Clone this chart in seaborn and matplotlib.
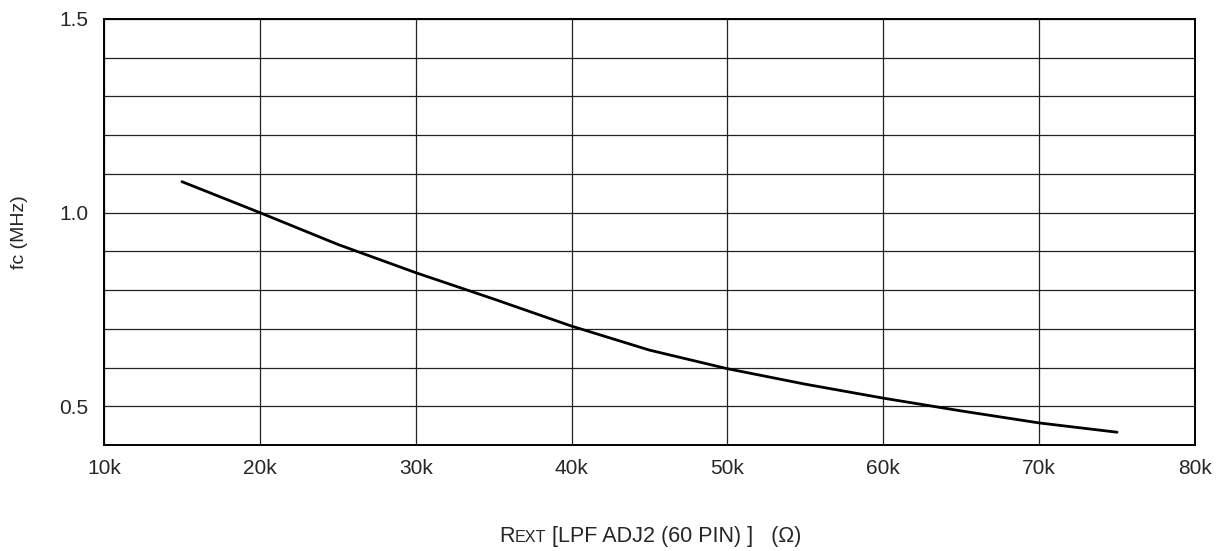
"""
fc vs REXT (LPF ADJ2, pin 60) -- curva de frecuencia de corte.
"""

import matplotlib.pyplot as plt
import numpy as np
import pandas as pd
import seaborn as sns
from matplotlib.ticker import FixedLocator, MultipleLocator


# valores (REXT en ohm, fc en MHz)
REXT = [15e3, 20e3, 25e3, 30e3, 35e3, 40e3, 45e3, 50e3, 55e3, 60e3, 65e3, 70e3, 75e3]
FC_MHZ = [1.08, 1.00, 0.918, 0.845, 0.777, 0.707, 0.645, 0.597, 0.557, 0.521, 0.488, 0.457, 0.433]

X_TICKS = [10e3, 20e3, 30e3, 40e3, 50e3, 60e3, 70e3, 80e3]
X_LABELS = ['10k', '20k', '30k', '40k', '50k', '60k', '70k', '80k']
Y_TICKS = [0.5, 1.0, 1.5]
Y_LABELS = ['0.5', '1.0', '1.5']

W, H = 1231, 551


def etiqueta_x(fig, partes, centro_px, base_px):
    """Coloca varios trozos de texto en la misma linea base, centrados."""
    renderer = fig.canvas.get_renderer()
    textos = []
    anchos = []
    for txt, size in partes:
        t = fig.text(0, base_px / H, txt, fontsize=size, ha='left', va='baseline')
        anchos.append(t.get_window_extent(renderer).width)
        textos.append(t)
    x = centro_px - sum(anchos) / 2
    for t, w in zip(textos, anchos):
        t.set_x(x / W)
        x += w


def main() -> None:
    sns.set_style('white')
    plt.rcParams['font.family'] = ['Liberation Sans', 'DejaVu Sans']

    df = pd.DataFrame({'rext': REXT, 'fc': FC_MHZ})

    fig = plt.figure(figsize=(W / 100, H / 100), dpi=100)
    ax = fig.add_axes([104 / W, 1 - 445 / H, (1195 - 104) / W, (445 - 19) / H])

    sns.lineplot(data=df, x='rext', y='fc', ax=ax, color='black', linewidth=2.0)

    ax.set_xlim(10e3, 80e3)
    ax.set_ylim(0.4, 1.5)

    ax.xaxis.set_major_locator(FixedLocator(X_TICKS))
    ax.set_xticklabels(X_LABELS)
    ax.yaxis.set_major_locator(FixedLocator(Y_TICKS))
    ax.set_yticklabels(Y_LABELS)
    ax.yaxis.set_minor_locator(MultipleLocator(0.1))

    ax.grid(True, which='both', axis='y', color='#222222', linewidth=0.9)
    ax.grid(True, which='major', axis='x', color='#222222', linewidth=0.9)
    ax.tick_params(axis='x', which='both', length=0, labelsize=15, pad=10)
    ax.tick_params(axis='y', which='both', length=0, labelsize=15, pad=11)

    for s in ax.spines.values():
        s.set_visible(True)
        s.set_color('black')
        s.set_linewidth(1.4)

    ax.set_xlabel('')
    ax.set_ylabel('')
    fig.text(19 / W, 1 - 232 / H, 'fc (MHz)', fontsize=14, rotation=90,
             ha='center', va='center')

    # R + EXT en versalitas
    etiqueta_x(fig, [('R', 15.5), ('EXT', 11.6),
                     (' [LPF ADJ2 (60 PIN) ]   (\u03a9)', 15.5)],
               centro_px=650, base_px=H - 542)

    fig.savefig('out.png', dpi=100)
    plt.close(fig)


if __name__ == '__main__':
    main()
